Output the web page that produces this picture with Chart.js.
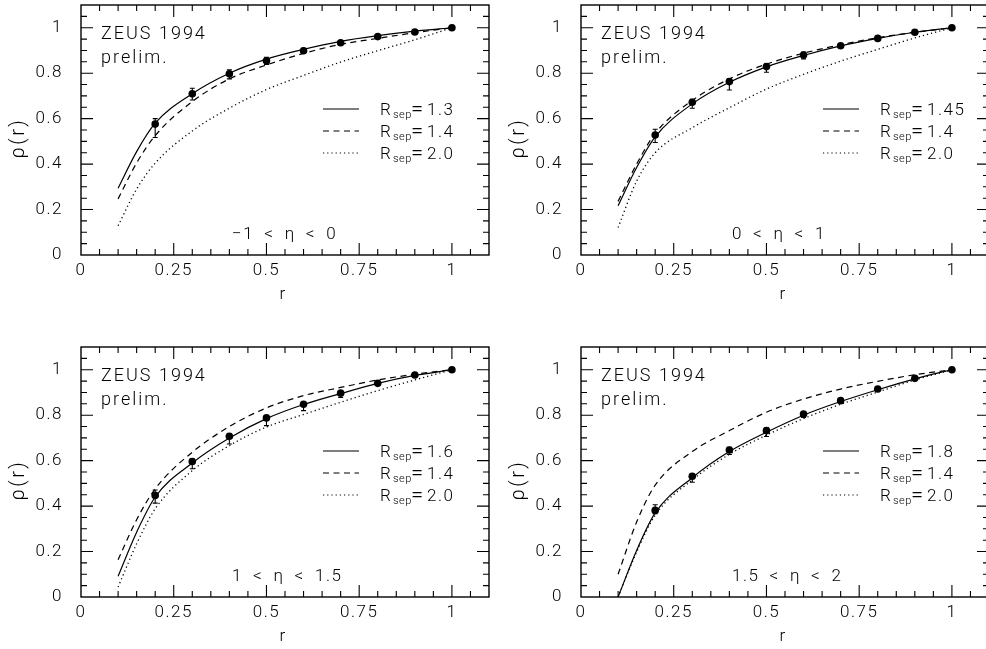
<!DOCTYPE html>
<html>
<head>
<meta charset="utf-8">
<script src="https://cdn.jsdelivr.net/npm/chart.js@4"></script>
<style>
html, body { margin: 0; padding: 0; background: #fff; overflow: hidden; width: 986px; height: 649px; position: relative; }
canvas { position: absolute; }
</style>
</head>
<body>
<canvas id="p1" width="493" height="320" style="left:0;top:0"></canvas>
<canvas id="p2" width="493" height="320" style="left:500px;top:0"></canvas>
<canvas id="p3" width="493" height="329" style="left:0;top:320px"></canvas>
<canvas id="p4" width="493" height="329" style="left:500px;top:320px"></canvas>
<script>
// ZEUS 1994 prelim. - jet shape rho(r), four eta bins

var radii = [0.2, 0.3, 0.4, 0.5, 0.6, 0.7, 0.8, 0.9, 1.0];
var curveR = [0.1, 0.15, 0.2, 0.3, 0.4, 0.5, 0.6, 0.7, 0.8, 0.9, 1.0];
var xTicks = [0, 0.25, 0.5, 0.75, 1];
var xTickLabels = ['0', '0.25', '0.5', '0.75', '1'];
var yTicks = [0, 0.2, 0.4, 0.6, 0.8, 1];
var yTickLabels = ['0', '0.2', '0.4', '0.6', '0.8', '1'];

// -1 < eta < 0
var rho1   = [0.576, 0.709, 0.797, 0.855, 0.899, 0.934, 0.961, 0.981, 1.0];
var rho1Hi = [0.600, 0.734, 0.815, 0.870, 0.910, 0.942, 0.967, 0.986, 1.0];
var rho1Lo = [0.517, 0.682, 0.775, 0.838, 0.888, 0.925, 0.955, 0.976, 1.0];
var best1  = [0.294, 0.455, 0.580, 0.710, 0.800, 0.862, 0.905, 0.940, 0.965, 0.985, 1.0];
var sep14_1 = [0.247, 0.405, 0.525, 0.675, 0.775, 0.836, 0.887, 0.927, 0.953, 0.978, 1.0];
var sep20_1 = [0.129, 0.290, 0.404, 0.546, 0.646, 0.728, 0.790, 0.849, 0.899, 0.947, 1.0];

// 0 < eta < 1
var rho2   = [0.528, 0.672, 0.763, 0.829, 0.880, 0.921, 0.953, 0.980, 1.0];
var rho2Hi = [0.553, 0.685, 0.775, 0.840, 0.893, 0.928, 0.958, 0.984, 1.0];
var rho2Lo = [0.495, 0.646, 0.726, 0.804, 0.863, 0.912, 0.946, 0.976, 1.0];
var best2  = [0.217, 0.385, 0.520, 0.665, 0.760, 0.828, 0.878, 0.920, 0.953, 0.980, 1.0];
var sep14_2 = [0.236, 0.400, 0.535, 0.680, 0.775, 0.840, 0.888, 0.925, 0.956, 0.980, 1.0];
var sep20_2 = [0.121, 0.325, 0.450, 0.560, 0.648, 0.730, 0.795, 0.853, 0.905, 0.955, 1.0];

// 1 < eta < 1.5
var rho3   = [0.447, 0.596, 0.707, 0.788, 0.848, 0.897, 0.940, 0.977, 1.0];
var rho3Hi = [0.471, 0.608, 0.717, 0.798, 0.857, 0.906, 0.946, 0.981, 1.0];
var rho3Lo = [0.413, 0.564, 0.673, 0.754, 0.820, 0.878, 0.932, 0.972, 1.0];
var best3  = [0.091, 0.285, 0.440, 0.590, 0.700, 0.785, 0.847, 0.895, 0.940, 0.975, 1.0];
var sep14_3 = [0.164, 0.340, 0.476, 0.637, 0.750, 0.832, 0.886, 0.922, 0.955, 0.980, 1.0];
var sep20_3 = [0.044, 0.234, 0.388, 0.556, 0.666, 0.748, 0.803, 0.857, 0.908, 0.955, 1.0];

// 1.5 < eta < 2
var rho4   = [0.381, 0.531, 0.647, 0.732, 0.805, 0.864, 0.915, 0.962, 1.0];
var rho4Hi = [0.406, 0.542, 0.659, 0.744, 0.815, 0.871, 0.921, 0.966, 1.0];
var rho4Lo = [0.366, 0.505, 0.627, 0.706, 0.790, 0.855, 0.908, 0.957, 1.0];
var best4  = [0.000, 0.205, 0.370, 0.525, 0.640, 0.725, 0.800, 0.860, 0.912, 0.960, 1.0];
var sep14_4 = [0.100, 0.330, 0.492, 0.640, 0.732, 0.813, 0.871, 0.915, 0.949, 0.978, 1.0];
var sep20_4 = [0.000, 0.198, 0.360, 0.515, 0.628, 0.712, 0.785, 0.848, 0.902, 0.955, 1.0];

var etaLabels = ['\u22121\u2002<\u2002\u03b7\u2002<\u20020', '0\u2002<\u2002\u03b7\u2002<\u20021',
                 '1\u2002<\u2002\u03b7\u2002<\u20021.5', '1.5\u2002<\u2002\u03b7\u2002<\u20022'];
var bestRsep = ['1.3', '1.45', '1.6', '1.8'];
var otherRsep = ['1.4', '2.0'];

var FONT = 'Roboto, "Liberation Sans", sans-serif';
var INK = '#000';
var DASH = [6, 4.5], DOT = [1.2, 3];

function pts(xs, ys) {
    return xs.map(function (v, i) { return { x: v, y: ys[i] }; });
}

function font(px) { return '300 ' + px + 'px ' + FONT; }

var decoPlugin = {
    id: 'deco',
    beforeDraw: function (chart) {
        chart.ctx.letterSpacing = '1.5px';
    },
    afterDatasetsDraw: function (chart, args, o) {
        var ctx = chart.ctx, a = chart.chartArea;
        var xs = chart.scales.x, ys = chart.scales.y;
        ctx.save();
        ctx.strokeStyle = INK;
        ctx.fillStyle = INK;

        // error bars
        ctx.lineWidth = 1.1;
        for (var i = 0; i < radii.length; i++) {
            var px = xs.getPixelForValue(radii[i]);
            var yh = ys.getPixelForValue(o.hi[i]), yl = ys.getPixelForValue(o.lo[i]);
            ctx.beginPath();
            ctx.moveTo(px, yh); ctx.lineTo(px, yl);
            ctx.moveTo(px - 2.5, yh); ctx.lineTo(px + 2.5, yh);
            ctx.moveTo(px - 2.5, yl); ctx.lineTo(px + 2.5, yl);
            ctx.stroke();
        }

        // inward ticks on all four sides (major every 0.25 in r, 0.2 in rho)
        ctx.lineWidth = 1.1;
        ctx.beginPath();
        for (var k = 1; k < 22; k++) {
            var xv = xs.getPixelForValue(k * 0.05);
            var lx = (k % 5 === 0) ? 12 : 6;
            ctx.moveTo(xv, a.bottom); ctx.lineTo(xv, a.bottom - lx);
            ctx.moveTo(xv, a.top); ctx.lineTo(xv, a.top + lx);
            var yv = ys.getPixelForValue(k * 0.05);
            var ly = (k % 4 === 0) ? 12 : 6;
            ctx.moveTo(a.left, yv); ctx.lineTo(a.left + ly, yv);
            ctx.moveTo(a.right, yv); ctx.lineTo(a.right - ly, yv);
        }
        ctx.stroke();

        // frame
        ctx.lineWidth = 1.4;
        ctx.strokeRect(a.left, a.top, a.right - a.left, a.bottom - a.top);

        // texts
        ctx.textAlign = 'left';
        ctx.textBaseline = 'alphabetic';
        ctx.letterSpacing = '2px';
        ctx.font = font(18);
        ctx.fillText('ZEUS 1994', a.left + 20, a.top + 34);
        ctx.fillText('prelim.', a.left + 20, a.top + 57.5);
        ctx.letterSpacing = '1.5px';
        ctx.font = font(17);
        ctx.fillText(o.eta, a.left + 151, a.top + 234);

        // legend
        var dashes = [[], DASH, DOT];
        var vals = [o.best].concat(otherRsep);
        for (var r = 0; r < 3; r++) {
            var ly0 = a.top + 104 + r * 22;
            ctx.lineWidth = 1.2;
            ctx.setLineDash(dashes[r]);
            ctx.beginPath();
            ctx.moveTo(a.left + 242, ly0); ctx.lineTo(a.left + 278, ly0);
            ctx.stroke();
            ctx.setLineDash([]);
            var tx = a.left + 299;
            ctx.letterSpacing = '1.5px';
            ctx.font = font(17);
            ctx.fillText('R', tx, ly0 + 6);
            ctx.letterSpacing = '0.5px';
            ctx.font = font(11);
            ctx.fillText('sep', tx + 13, ly0 + 9);
            ctx.font = font(22);
            ctx.fillText('=', tx + 31, ly0 + 7);
            ctx.letterSpacing = '1.5px';
            ctx.font = font(17);
            ctx.fillText(vals[r], tx + 47, ly0 + 6);
        }

        // axis titles
        ctx.textAlign = 'center';
        ctx.font = font(17);
        ctx.fillText('r', (a.left + a.right) / 2 - 2, a.bottom + 44);
        ctx.translate(a.left - 62, a.top + 133);
        ctx.rotate(-Math.PI / 2);
        ctx.textBaseline = 'middle';
        ctx.letterSpacing = '2.5px';
        ctx.font = font(20);
        ctx.fillText('\u03c1(r)', 0, 0);
        ctx.restore();
    }
};

function makePanel(id, rho, hi, lo, best, s14, s20, eta, bestLabel, box) {
    return new Chart(document.getElementById(id), {
        type: 'line',
        data: {
            datasets: [{
                data: pts(radii, rho),
                showLine: false,
                pointRadius: 3.8,
                pointBorderWidth: 0,
                pointBackgroundColor: INK
            }, {
                data: pts(curveR, best),
                borderColor: INK, borderWidth: 1.2,
                pointRadius: 0, cubicInterpolationMode: 'monotone'
            }, {
                data: pts(curveR, s14),
                borderColor: INK, borderWidth: 1.2, borderDash: DASH,
                pointRadius: 0, cubicInterpolationMode: 'monotone'
            }, {
                data: pts(curveR, s20),
                borderColor: INK, borderWidth: 1.3, borderDash: DOT,
                pointRadius: 0, cubicInterpolationMode: 'monotone'
            }]
        },
        options: {
            responsive: false,
            animation: false,
            devicePixelRatio: 1,
            layout: { padding: { left: 0, top: box.top, right: 3, bottom: 0 } },
            plugins: {
                legend: { display: false },
                tooltip: { enabled: false },
                deco: { hi: hi, lo: lo, eta: eta, best: bestLabel }
            },
            scales: {
                x: {
                    type: 'linear', min: 0, max: 1.1,
                    grid: { display: false, drawTicks: false },
                    border: { display: false },
                    afterBuildTicks: function (s) { s.ticks = xTicks.map(function (v) { return { value: v }; }); },
                    afterFit: function (s) {
                        s.height = box.xH;
                        s.paddingLeft = 0; s.paddingRight = 0;
                    },
                    ticks: {
                        padding: 5.5, color: INK,
                        font: { family: FONT, size: 17, weight: 300 },
                        maxRotation: 0,
                        callback: function (v, i) { return xTickLabels[i]; }
                    }
                },
                y: {
                    type: 'linear', min: 0, max: 1.1,
                    grid: { display: false, drawTicks: false },
                    border: { display: false },
                    afterBuildTicks: function (s) { s.ticks = yTicks.map(function (v) { return { value: v }; }); },
                    afterFit: function (s) {
                        s.width = 81;
                        s.paddingTop = 0; s.paddingBottom = 0;
                    },
                    ticks: {
                        padding: 18, color: INK,
                        font: { family: FONT, size: 17, weight: 300 },
                        callback: function (v, i) { return yTickLabels[i]; }
                    }
                }
            }
        },
        plugins: [decoPlugin]
    });
}

var topBox = { top: 5, xH: 65 };
var botBox = { top: 27, xH: 52 };

makePanel('p1', rho1, rho1Hi, rho1Lo, best1, sep14_1, sep20_1, etaLabels[0], bestRsep[0], topBox);
makePanel('p2', rho2, rho2Hi, rho2Lo, best2, sep14_2, sep20_2, etaLabels[1], bestRsep[1], topBox);
makePanel('p3', rho3, rho3Hi, rho3Lo, best3, sep14_3, sep20_3, etaLabels[2], bestRsep[2], botBox);
makePanel('p4', rho4, rho4Hi, rho4Lo, best4, sep14_4, sep20_4, etaLabels[3], bestRsep[3], botBox);
</script>
</body>
</html>
